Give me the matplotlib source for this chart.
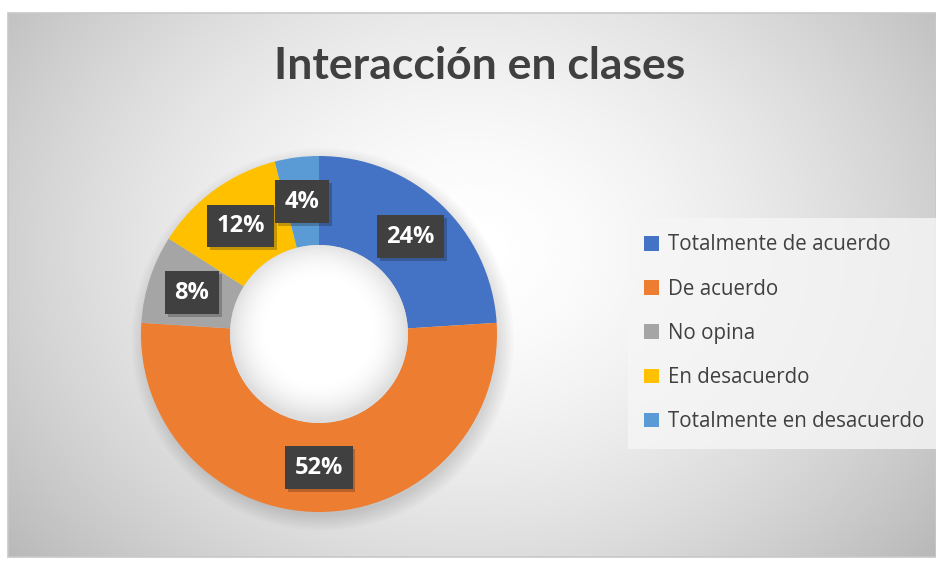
"""Gráfico de anillo: Interacción en clases."""

import matplotlib.pyplot as plt
import matplotlib.patheffects as pe
from matplotlib.patches import Circle, Rectangle, Patch
import numpy as np

categorias = ["Totalmente de acuerdo", "De acuerdo", "No opina",
              "En desacuerdo", "Totalmente en desacuerdo"]
porcentajes = [24, 52, 8, 12, 4]
colores = ["#4472C4", "#ED7D31", "#A5A5A5", "#FFC000", "#5B9BD5"]
titulo = "Interacción en clases"

W, H = 936, 561
fig = plt.figure(figsize=(W / 100, H / 100), dpi=100)

# fondo con degradado radial dentro del marco
bg = fig.add_axes([0, 0, 1, 1])
bg.set_xlim(0, W)
bg.set_ylim(H, 0)
bg.axis("off")
x0, x1, y0, y1 = 8, 936, 13, 557
xx, yy = np.meshgrid(np.linspace(x0, x1, 400), np.linspace(y0, y1, 240))
d = np.hypot((xx - 470) / 520, (yy - 250) / 420)
grad = 1.0 - 0.22 * np.clip(d, 0, 1.2) ** 1.6
bg.imshow(grad, cmap="gray", vmin=0, vmax=1, extent=(x0, x1, y1, y0),
          interpolation="bicubic", zorder=0)
bg.add_patch(Rectangle((x0, y0), x1 - x0, y1 - y0, fill=False,
                       edgecolor="#c8c8c8", lw=1.2, zorder=1))

# anillo
cx, cy, r = 319, 334, 178
ax = fig.add_axes([(cx - r * 1.1) / W, (H - cy - r * 1.1) / H,
                   2.2 * r / W, 2.2 * r / H])
ax.axis("off")

# sombra difusa del anillo
for k in range(8):
    ax.add_patch(Circle((0.02, -0.03), 0.99 + 0.012 * k, color="black",
                        alpha=0.016, lw=0, zorder=0))

wedges, _ = ax.pie(porcentajes, colors=colores, startangle=90,
                   counterclock=False, radius=1.0,
                   wedgeprops=dict(width=0.5, edgecolor="none"))
for w in wedges:
    w.set_zorder(2)

# agujero con sombra interior
n = 300
gx, gy = np.meshgrid(np.linspace(-0.5, 0.5, n), np.linspace(-0.5, 0.5, n))
rr = np.hypot(gx, gy + 0.02) / 0.5
hole = 1.0 - 0.13 * np.clip((rr - 0.55) / 0.45, 0, 1) ** 2
im = ax.imshow(hole, cmap="gray", vmin=0, vmax=1, extent=(-0.5, 0.5, -0.5, 0.5),
               interpolation="bicubic", zorder=3)
im.set_clip_path(Circle((0, 0), 0.5, transform=ax.transData))
ax.set_xlim(-1.1, 1.1)
ax.set_ylim(-1.1, 1.1)

# etiquetas
inicio = 90.0
for p in porcentajes:
    medio = np.deg2rad(inicio - p * 3.6 / 2)
    inicio -= p * 3.6
    t = ax.text(0.75 * np.cos(medio), 0.75 * np.sin(medio), f"{p}%",
                ha="center", va="center", color="white", fontsize=17,
                fontweight="bold", family="Open Sans", zorder=5,
                bbox=dict(boxstyle="square,pad=0.4", facecolor="#404040",
                          edgecolor="none"))
    t.get_bbox_patch().set_path_effects(
        [pe.SimplePatchShadow(offset=(2, -2), alpha=0.25), pe.Normal()])

fig.text(480 / W, 1 - 66 / H, titulo, ha="center", va="center",
         fontsize=32, fontweight="bold", color="#404040", family="Lato")

handles = [Patch(facecolor=c, edgecolor="none") for c in colores]
leg = fig.legend(handles, categorias, loc="upper left",
                 bbox_to_anchor=(628 / W, 1 - 218 / H), frameon=True,
                 labelcolor="#404040", handlelength=0.72,
                 handleheight=0.72, handletextpad=0.45, labelspacing=1.13,
                 borderpad=0.8, borderaxespad=0, fancybox=False,
                 prop={"family": "Open Sans", "size": 14.8})
leg.get_frame().set_facecolor("#f6f6f6")
leg.get_frame().set_edgecolor("none")
leg.get_frame().set_alpha(0.8)

fig.savefig("out.png", dpi=100)
